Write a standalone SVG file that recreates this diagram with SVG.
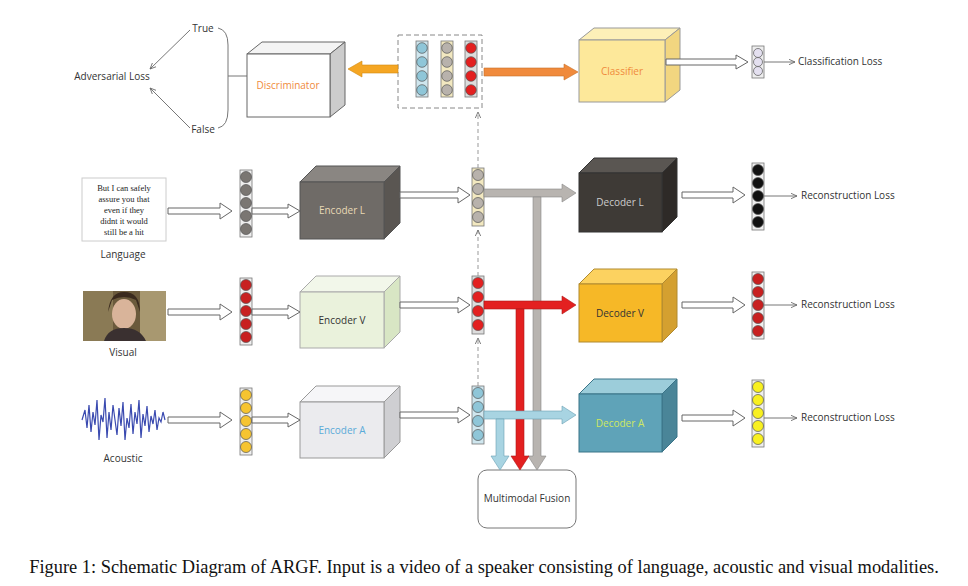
<svg xmlns="http://www.w3.org/2000/svg" width="968" height="586" viewBox="0 0 968 586">
<defs>
<style>
text{font-family:"Open Sans","Liberation Sans",sans-serif;font-size:10px;fill:#333}
text.sf{font-family:"Liberation Serif",serif;font-size:8.5px;text-anchor:middle;fill:#222}
text.cap{font-family:"Liberation Serif",serif;font-size:18.4px;fill:#111;text-anchor:middle}
.lbl{text-anchor:middle}
.hol{fill:#fff;stroke:#666;stroke-width:1}
.col{stroke:#777;stroke-width:0.8}
.c{stroke:#555;stroke-width:0.7}
.thin{stroke:#777;stroke-width:1;fill:none}
.dash{stroke:#999;stroke-width:1;fill:none;stroke-dasharray:4 3}
</style>
<marker id="ah" viewBox="0 0 10 10" refX="9" refY="5" markerWidth="7" markerHeight="7" orient="auto"><path d="M0,1 L9,5 L0,9" fill="none" stroke="#666" stroke-width="1.2"/></marker>
</defs>
<rect width="968" height="586" fill="#fff"/>

<g id="adversarial">
<text x="112" y="80" class="lbl">Adversarial Loss</text>
<text x="203" y="32" class="lbl">True</text>
<text x="203" y="133" class="lbl">False</text>
<line x1="190" y1="30" x2="150" y2="69" class="thin" marker-end="url(#ah)"/>
<line x1="190" y1="128" x2="150" y2="88" class="thin" marker-end="url(#ah)"/>
<path d="M218,28 Q228,30 228,45 L228,110 Q228,126 218,128 M228,76 H247" class="thin"/>
</g>

<g id="discriminator">
<polygon points="247,54 262,42 345,42 330,54" fill="#f4f4f4" stroke="#666"/>
<polygon points="330,54 345,42 345,105 330,117" fill="#ccc" stroke="#666"/>
<rect x="247" y="54" width="83" height="63" fill="#fff" stroke="#666"/>
<text x="288" y="89" class="lbl" style="fill:#f08a3c">Discriminator</text>
</g>

<g id="latent-box">
<rect x="398" y="35" width="84" height="73" fill="none" stroke="#888" stroke-dasharray="5 3"/>
<rect x="416" y="41" width="12" height="56" fill="#cfe6ee" class="col"/>
<circle cx="422" cy="48" r="5.3" fill="#8fc6d8" class="c"/><circle cx="422" cy="62" r="5.3" fill="#8fc6d8" class="c"/><circle cx="422" cy="76" r="5.3" fill="#8fc6d8" class="c"/><circle cx="422" cy="90" r="5.3" fill="#8fc6d8" class="c"/>
<rect x="441" y="41" width="12" height="56" fill="#f2e8c0" class="col"/>
<circle cx="447" cy="48" r="5.3" fill="#b8b2ac" class="c"/><circle cx="447" cy="62" r="5.3" fill="#b8b2ac" class="c"/><circle cx="447" cy="76" r="5.3" fill="#b8b2ac" class="c"/><circle cx="447" cy="90" r="5.3" fill="#b8b2ac" class="c"/>
<rect x="465" y="41" width="12" height="56" fill="#ddd" class="col"/>
<circle cx="471" cy="48" r="5.3" fill="#e32020" class="c"/><circle cx="471" cy="62" r="5.3" fill="#e32020" class="c"/><circle cx="471" cy="76" r="5.3" fill="#e32020" class="c"/><circle cx="471" cy="90" r="5.3" fill="#e32020" class="c"/>
</g>

<g id="classifier">
<polygon points="579,40 594,28 680,28 665,40" fill="#fdf0b8" stroke="#999"/>
<polygon points="665,40 680,28 680,90 665,102" fill="#f2d680" stroke="#999"/>
<rect x="579" y="40" width="86" height="62" fill="#fde89a" stroke="#999"/>
<text x="622" y="75" class="lbl" style="fill:#f08a3c">Classifier</text>
</g>
<g id="cls-out">
<rect x="752" y="46" width="12" height="32" fill="#eee" class="col"/>
<circle cx="758" cy="53" r="4.5" fill="#e4e0f0" class="c"/><circle cx="758" cy="62" r="4.5" fill="#e4e0f0" class="c"/><circle cx="758" cy="71" r="4.5" fill="#e4e0f0" class="c"/>
<text x="798" y="65">Classification Loss</text>
</g>

<g id="language-input">
<rect x="82" y="178" width="84" height="63" fill="#fff" stroke="#ccc"/>
<text x="124" y="191" class="sf">But I can safely</text><text x="124" y="202" class="sf">assure you that</text><text x="124" y="213" class="sf">even if they</text><text x="124" y="224" class="sf">didnt it would</text><text x="124" y="235" class="sf">still be a hit</text>
<text x="123" y="258" class="lbl">Language</text>
</g>
<g id="visual-input">
<rect x="83" y="291" width="83" height="50" fill="#6b5a3c"/>
<rect x="83" y="291" width="30" height="50" fill="#8a7a55"/>
<rect x="140" y="291" width="26" height="50" fill="#a89870"/>
<ellipse cx="124" cy="314" rx="12" ry="15" fill="#d9b49a"/>
<path d="M108,312 Q110,292 124,292 Q140,292 140,312 L136,300 Q124,294 112,300 Z" fill="#3a2a1e"/>
<path d="M104,341 Q108,328 124,328 Q140,328 146,341 Z" fill="#3a3030"/>
<text x="123" y="356" class="lbl">Visual</text>
</g>
<g id="acoustic-input">
<polyline points="82,420 85,410 87,428 89,405 91,432 93,412 95,425 97,400 99,440 101,415 103,422 105,398 107,438 109,412 111,430 113,405 115,420 117,435 119,408 121,426 123,402 125,440 127,418 129,428 131,404 133,434 135,412 137,424 139,400 141,438 143,414 145,426 147,406 149,432 151,416 153,424 155,410 157,430 159,418 161,422 163,412 165,420" fill="none" stroke="#3a4ab0" stroke-width="1.2"/>
<text x="123" y="462" class="lbl">Acoustic</text>
</g>

<g id="input-cols">
<rect x="240" y="170" width="12" height="67" fill="#eee" class="col"/>
<circle cx="246" cy="177" r="5.5" fill="#7a7672" class="c"/><circle cx="246" cy="190" r="5.5" fill="#7a7672" class="c"/><circle cx="246" cy="203" r="5.5" fill="#7a7672" class="c"/><circle cx="246" cy="216" r="5.5" fill="#7a7672" class="c"/><circle cx="246" cy="229" r="5.5" fill="#7a7672" class="c"/>
<rect x="240" y="278" width="12" height="67" fill="#eee" class="col"/>
<circle cx="246" cy="285" r="5.5" fill="#c82020" class="c"/><circle cx="246" cy="298" r="5.5" fill="#c82020" class="c"/><circle cx="246" cy="311" r="5.5" fill="#c82020" class="c"/><circle cx="246" cy="324" r="5.5" fill="#c82020" class="c"/><circle cx="246" cy="337" r="5.5" fill="#c82020" class="c"/>
<rect x="240" y="388" width="12" height="67" fill="#eee" class="col"/>
<circle cx="246" cy="395" r="5.5" fill="#f6c430" class="c"/><circle cx="246" cy="408" r="5.5" fill="#f6c430" class="c"/><circle cx="246" cy="421" r="5.5" fill="#f6c430" class="c"/><circle cx="246" cy="434" r="5.5" fill="#f6c430" class="c"/><circle cx="246" cy="447" r="5.5" fill="#f6c430" class="c"/>
</g>

<g id="encoder-l">
<polygon points="300,182 316,166 400,166 384,182" fill="#8a8682" stroke="#555"/>
<polygon points="384,182 400,166 400,223 384,239" fill="#5a5652" stroke="#555"/>
<rect x="300" y="182" width="84" height="57" fill="#6f6b67" stroke="#555"/>
<text x="342" y="214" class="lbl" style="fill:#e8d9b5">Encoder L</text>
</g>
<g id="encoder-v">
<polygon points="300,292 316,276 400,276 384,292" fill="#f2f7ea" stroke="#aaa"/>
<polygon points="384,292 400,276 400,332 384,348" fill="#d8e6c4" stroke="#aaa"/>
<rect x="300" y="292" width="84" height="56" fill="#eaf2dc" stroke="#aaa"/>
<text x="342" y="324" class="lbl">Encoder V</text>
</g>
<g id="encoder-a">
<polygon points="300,402 316,386 400,386 384,402" fill="#f6f6f8" stroke="#999"/>
<polygon points="384,402 400,386 400,442 384,458" fill="#cfcfd2" stroke="#999"/>
<rect x="300" y="402" width="84" height="56" fill="#ebebee" stroke="#999"/>
<text x="342" y="434" class="lbl" style="fill:#5aaad8">Encoder A</text>
</g>

<g id="latent-cols">
<rect x="472" y="168" width="12" height="58" fill="#f2e8c0" class="col"/>
<circle cx="478" cy="175" r="5.5" fill="#b8b2ac" class="c"/><circle cx="478" cy="189" r="5.5" fill="#b8b2ac" class="c"/><circle cx="478" cy="203" r="5.5" fill="#b8b2ac" class="c"/><circle cx="478" cy="217" r="5.5" fill="#b8b2ac" class="c"/>
<rect x="472" y="276" width="12" height="58" fill="#ddd" class="col"/>
<circle cx="478" cy="283" r="5.5" fill="#e32020" class="c"/><circle cx="478" cy="297" r="5.5" fill="#e32020" class="c"/><circle cx="478" cy="311" r="5.5" fill="#e32020" class="c"/><circle cx="478" cy="325" r="5.5" fill="#e32020" class="c"/>
<rect x="472" y="386" width="12" height="58" fill="#cfe6ee" class="col"/>
<circle cx="478" cy="393" r="5.5" fill="#8fc6d8" class="c"/><circle cx="478" cy="407" r="5.5" fill="#8fc6d8" class="c"/><circle cx="478" cy="421" r="5.5" fill="#8fc6d8" class="c"/><circle cx="478" cy="435" r="5.5" fill="#8fc6d8" class="c"/>
</g>

<g id="decoder-l">
<polygon points="579,173 594,158 677,158 662,173" fill="#5a5652" stroke="#333"/>
<polygon points="662,173 677,158 677,217 662,232" fill="#2e2a27" stroke="#333"/>
<rect x="579" y="173" width="83" height="59" fill="#3e3a36" stroke="#333"/>
<text x="620" y="206" class="lbl" style="fill:#ccc">Decoder L</text>
</g>
<g id="decoder-v">
<polygon points="579,284 594,269 677,269 662,284" fill="#fcd260" stroke="#b08a30"/>
<polygon points="662,284 677,269 677,327 662,342" fill="#d4a030" stroke="#b08a30"/>
<rect x="579" y="284" width="83" height="58" fill="#f6b827" stroke="#b08a30"/>
<text x="620" y="317" class="lbl">Decoder V</text>
</g>
<g id="decoder-a">
<polygon points="579,394 594,379 677,379 662,394" fill="#9ccdda" stroke="#3a7488"/>
<polygon points="662,394 677,379 677,437 662,452" fill="#4a8598" stroke="#3a7488"/>
<rect x="579" y="394" width="83" height="58" fill="#5fa3b8" stroke="#3a7488"/>
<text x="620" y="427" class="lbl" style="fill:#d0e860">Decoder A</text>
</g>

<g id="output-cols">
<rect x="752" y="163" width="12" height="67" fill="#eee" class="col"/>
<circle cx="758" cy="170" r="5.5" fill="#111" class="c"/><circle cx="758" cy="183" r="5.5" fill="#111" class="c"/><circle cx="758" cy="196" r="5.5" fill="#111" class="c"/><circle cx="758" cy="209" r="5.5" fill="#111" class="c"/><circle cx="758" cy="222" r="5.5" fill="#111" class="c"/>
<text x="801" y="199">Reconstruction Loss</text>
<rect x="752" y="272" width="12" height="67" fill="#eee" class="col"/>
<circle cx="758" cy="279" r="5.5" fill="#c82020" class="c"/><circle cx="758" cy="292" r="5.5" fill="#c82020" class="c"/><circle cx="758" cy="305" r="5.5" fill="#c82020" class="c"/><circle cx="758" cy="318" r="5.5" fill="#c82020" class="c"/><circle cx="758" cy="331" r="5.5" fill="#c82020" class="c"/>
<text x="801" y="308">Reconstruction Loss</text>
<rect x="752" y="380" width="12" height="67" fill="#eee" class="col"/>
<circle cx="758" cy="387" r="5.5" fill="#f8f020" class="c"/><circle cx="758" cy="400" r="5.5" fill="#f8f020" class="c"/><circle cx="758" cy="413" r="5.5" fill="#f8f020" class="c"/><circle cx="758" cy="426" r="5.5" fill="#f8f020" class="c"/><circle cx="758" cy="439" r="5.5" fill="#f8f020" class="c"/>
<text x="801" y="421">Reconstruction Loss</text>
</g>

<g id="fusion">
<rect x="478" y="470" width="98" height="58" rx="9" fill="#fff" stroke="#777"/>
<text x="527" y="502" class="lbl">Multimodal Fusion</text>
</g>

<g id="connectors">
<path d="M398,65 H362 V61 L348,69 L362,77 V73 H398 Z" fill="#f5a623" stroke="#d08a10" stroke-width="0.6"/>
<path d="M484,68 H564 V64 L578,72 L564,80 V76 H484 Z" fill="#f08a3c" stroke="#c87028" stroke-width="0.6"/>
<path d="M666,59 H736 V55 L748,62 L736,69 V65 H666 Z" class="hol"/>
<line x1="764" y1="62" x2="795" y2="62" class="thin" marker-end="url(#ah)"/>

<path d="M168,208 H220 V203 L232,211 L220,219 V214 H168 Z" class="hol"/>
<path d="M252,208 H288 V204 L300,211 L288,218 V214 H252 Z" class="hol"/>
<path d="M400,192 H458 V187 L470,195 L458,203 V198 H400 Z" class="hol"/>
<path d="M682,192 H733 V187 L745,195 L733,203 V198 H682 Z" class="hol"/>
<line x1="764" y1="196" x2="797" y2="196" class="thin" marker-end="url(#ah)"/>

<path d="M168,309 H220 V304 L232,312 L220,320 V315 H168 Z" class="hol"/>
<path d="M252,309 H288 V305 L300,312 L288,319 V315 H252 Z" class="hol"/>
<path d="M400,302 H458 V297 L470,305 L458,313 V308 H400 Z" class="hol"/>
<path d="M682,302 H733 V297 L745,305 L733,313 V308 H682 Z" class="hol"/>
<line x1="764" y1="305" x2="797" y2="305" class="thin" marker-end="url(#ah)"/>

<path d="M168,417 H220 V412 L232,420 L220,428 V423 H168 Z" class="hol"/>
<path d="M252,417 H288 V413 L300,420 L288,427 V423 H252 Z" class="hol"/>
<path d="M400,412 H458 V407 L470,415 L458,423 V418 H400 Z" class="hol"/>
<path d="M682,415 H733 V410 L745,418 L733,426 V421 H682 Z" class="hol"/>
<line x1="764" y1="418" x2="797" y2="418" class="thin" marker-end="url(#ah)"/>

<line x1="478" y1="386" x2="478" y2="338" class="dash" marker-end="url(#ah)"/>
<line x1="478" y1="276" x2="478" y2="230" class="dash" marker-end="url(#ah)"/>
<line x1="478" y1="168" x2="478" y2="112" class="dash" marker-end="url(#ah)"/>

<path d="M484,189 H562 V184 L576,193 L562,202 V197 H484 Z" fill="#b8b4b0" stroke="#888" stroke-width="0.6"/>
<path d="M533,197 V456 H528 L537,470 L546,456 H541 V197 Z" fill="#b8b4b0" stroke="#888" stroke-width="0.6"/>
<path d="M484,301 H562 V296 L576,305 L562,314 V309 H484 Z" fill="#e32020" stroke="#b01818" stroke-width="0.6"/>
<path d="M516,309 V456 H511 L520,470 L529,456 H524 V309 Z" fill="#e32020" stroke="#b01818" stroke-width="0.6"/>
<path d="M484,411 H562 V406 L576,415 L562,424 V419 H484 Z" fill="#a8d4e2" stroke="#6aa0b4" stroke-width="0.6"/>
<path d="M496,419 V456 H491 L500,470 L509,456 H504 V419 Z" fill="#a8d4e2" stroke="#6aa0b4" stroke-width="0.6"/>
</g>

<text x="484" y="573" class="cap">Figure 1: Schematic Diagram of ARGF. Input is a video of a speaker consisting of language, acoustic and visual modalities.</text>
</svg>
